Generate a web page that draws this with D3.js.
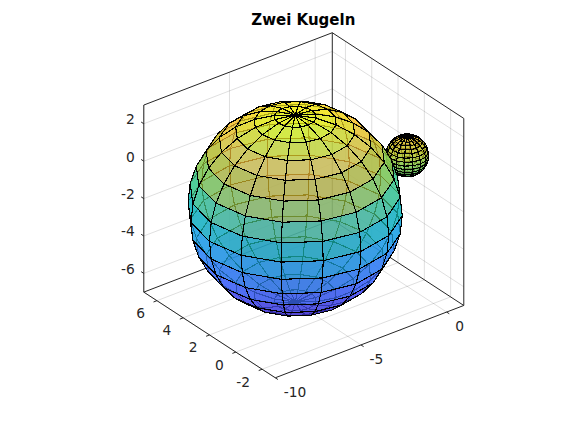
<!DOCTYPE html>
<html><head><meta charset="utf-8">
<script src="https://cdn.jsdelivr.net/npm/d3@7"></script>
<style>html,body{margin:0;padding:0;background:#fff}svg{display:block}text{font-family:"DejaVu Sans",sans-serif;fill:#262626}</style>
</head><body><svg id="c" width="587" height="426"></svg>
<script>
const titleText = "Zwei Kugeln";
const xLim = [-10, 1], yLim = [-3, 7], zLim = [-7, 3];
const xTicks = [-10, -5, 0], yTicks = [-2, 0, 2, 4, 6], zTicks = [-6, -4, -2, 0, 2];
const spheres = [
  {name: "klein", center: [0, 0, 0], radius: 1},
  {name: "gross", center: [-5, 2, -2], radius: 5}
];
const meshN = 16, azDeg = -37.5, elDeg = 30, faceAlpha = 0.7;
const parula = [[.2422,.1504,.6603],[.2504,.165,.7076],[.2578,.1818,.7511],[.2647,.1978,.7952],[.2706,.2147,.8364],[.2751,.2342,.871],[.2783,.2559,.8991],[.2803,.2782,.9221],[.2813,.3006,.9414],[.281,.3228,.9579],[.2795,.3447,.9717],[.276,.3667,.9829],[.2699,.3892,.9906],[.2602,.4123,.9952],[.244,.4358,.9988],[.2206,.4603,.9973],[.1963,.4847,.9892],[.1834,.5074,.9798],[.1786,.5289,.9682],[.1764,.5499,.952],[.1687,.5703,.9359],[.154,.5902,.9218],[.146,.6091,.9079],[.138,.6276,.8973],[.1248,.6459,.8883],[.1113,.6635,.8763],[.0952,.6798,.8598],[.0689,.6948,.8394],[.0297,.7082,.8163],[.0036,.7203,.7917],[.0067,.7312,.766],[.0433,.7411,.7394],[.0964,.75,.712],[.1408,.7584,.6842],[.1717,.767,.6554],[.1938,.7758,.6251],[.2161,.7843,.5923],[.247,.7918,.5567],[.2906,.7973,.5188],[.3406,.8008,.4789],[.3909,.8029,.4354],[.4456,.8024,.3909],[.5044,.7993,.348],[.5616,.7942,.3045],[.6174,.7876,.2612],[.672,.7793,.2227],[.7242,.7698,.191],[.7738,.7598,.1646],[.8203,.7498,.1535],[.8634,.7406,.1596],[.9035,.733,.1774],[.9393,.7288,.21],[.9728,.7298,.2394],[.9956,.7434,.2371],[.997,.7659,.2199],[.9952,.7893,.2028],[.9892,.8136,.1885],[.9786,.8386,.1766],[.9676,.8639,.1643],[.961,.889,.1537],[.9597,.9135,.1423],[.9628,.9373,.1265],[.9691,.9606,.1064],[.9769,.9839,.0805]];

const svg = d3.select("#c");
const az = azDeg * Math.PI / 180, el = elDeg * Math.PI / 180;
const S = 21.6;
const sx = d3.scaleLinear().domain([0, 1]).range([407.2, 407.2 + S]);
const sy = d3.scaleLinear().domain([0, 1]).range([155.4, 155.4 - S]);
const proj = ([x, y, z]) => {
  const r = x * Math.cos(az) + y * Math.sin(az);
  const u = z * Math.cos(el) - Math.sin(az) * Math.sin(el) * x + Math.cos(az) * Math.sin(el) * y;
  return [sx(r), sy(u)];
};
const depth = ([x, y, z]) => x * Math.sin(az) * Math.cos(el) - y * Math.cos(az) * Math.cos(el) + z * Math.sin(el);
const line = d3.line();
const seg = (g, a, b, stroke, op, w) => g.append("path").attr("d", line([proj(a), proj(b)]))
  .attr("fill", "none").attr("stroke", stroke).attr("stroke-opacity", op).attr("stroke-width", w);

// Grid on back walls and floor
const [x0, x1] = xLim, [y0, y1] = yLim, [z0, z1] = zLim;
const grid = svg.append("g");
const gc = "#262626", ga = 0.15;
xTicks.forEach(x => { seg(grid, [x, y0, z0], [x, y1, z0], gc, ga, 1); seg(grid, [x, y1, z0], [x, y1, z1], gc, ga, 1); });
yTicks.forEach(y => { seg(grid, [x0, y, z0], [x1, y, z0], gc, ga, 1); seg(grid, [x1, y, z0], [x1, y, z1], gc, ga, 1); });
zTicks.forEach(z => { seg(grid, [x0, y1, z], [x1, y1, z], gc, ga, 1); seg(grid, [x1, y1, z], [x1, y0, z], gc, ga, 1); });

// Box
const box = svg.append("g");
[[[x0,y1,z1],[x1,y1,z1]],[[x1,y1,z1],[x1,y0,z1]],[[x0,y1,z0],[x0,y1,z1]],[[x1,y1,z0],[x1,y1,z1]],[[x1,y0,z0],[x1,y0,z1]],
 [[x0,y1,z0],[x1,y1,z0]],[[x1,y1,z0],[x1,y0,z0]],[[x0,y1,z0],[x0,y0,z0]],[[x0,y0,z0],[x1,y0,z0]]]
 .forEach(([a, b]) => seg(box, a, b, "#262626", 1, 1));

// Ticks and labels
const tl = 0.2;
xTicks.forEach(x => seg(box, [x, y0, z0], [x, y0 - tl, z0], "#262626", 1, 1));
yTicks.forEach(y => seg(box, [x0, y, z0], [x0 - tl, y, z0], "#262626", 1, 1));
zTicks.forEach(z => seg(box, [x0, y1, z], [x0, y1 + tl, z], "#262626", 1, 1));
const labels = svg.append("g").attr("font-size", 13.8);
xTicks.forEach(x => { const [a, b] = proj([x, y0, z0]);
  labels.append("text").attr("x", a + 8.5).attr("y", b + 19).attr("text-anchor", "start").text(x); });
yTicks.forEach(y => { const [a, b] = proj([x0, y, z0]);
  labels.append("text").attr("x", a - 12).attr("y", b + 17.5).attr("text-anchor", "end").text(y); });
zTicks.forEach(z => { const [a, b] = proj([x0, y1, z]);
  labels.append("text").attr("x", a - 9).attr("y", b + 0.5).attr("text-anchor", "end").text(z); });

svg.append("text").attr("x", 303.3).attr("y", 25).attr("text-anchor", "middle")
  .attr("font-size", 15).attr("font-weight", "bold").style("fill", "#000").text(titleText);

// Spheres: same mesh as sphere(n), flat colours from z
const cIndex = d3.scaleLinear().domain(zLim).range([0, parula.length]).clamp(true);
const colourOf = z => {
  const c = parula[Math.min(parula.length - 1, Math.floor(cIndex(z)))];
  return d3.rgb(c[0] * 255, c[1] * 255, c[2] * 255).formatRgb();
};
const theta = d3.range(meshN + 1).map(j => (-1 + 2 * j / meshN) * Math.PI);
const phi = d3.range(meshN + 1).map(i => (-0.5 + i / meshN) * Math.PI);
spheres.forEach(s => {
  const P = (i, j) => [
    s.center[0] + s.radius * Math.cos(phi[i]) * Math.cos(theta[j]),
    s.center[1] + s.radius * Math.cos(phi[i]) * Math.sin(theta[j]),
    s.center[2] + s.radius * Math.sin(phi[i])];
  const faces = [];
  for (let i = 0; i < meshN; i++) for (let j = 0; j < meshN; j++) {
    const q = [P(i, j), P(i + 1, j), P(i + 1, j + 1), P(i, j + 1)];
    faces.push({q, z: q[0][2], d: d3.mean(q, depth)});
  }
  faces.sort((a, b) => a.d - b.d);
  svg.append("g").attr("class", s.name).selectAll("path").data(faces).join("path")
    .attr("d", f => line(f.q.map(proj)) + "Z")
    .attr("fill", f => colourOf(f.z)).attr("fill-opacity", faceAlpha)
    .attr("stroke", "#000").attr("stroke-width", 1.1).attr("stroke-linejoin", "round")
    .attr("shape-rendering", "crispEdges");
});
</script></body></html>
